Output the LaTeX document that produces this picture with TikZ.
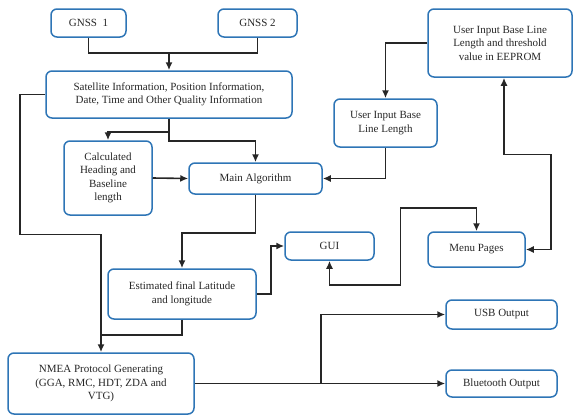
\documentclass[tikz,border=0pt]{standalone}
\usepackage{fontspec}
\setmainfont{Liberation Serif}
\usetikzlibrary{arrows.meta}
\definecolor{boxblue}{RGB}{46,117,182}
\tikzset{
  box/.style={draw=boxblue, line width=1.5pt, rounded corners=6pt, align=center,
    inner sep=2pt, font=\fontsize{11}{13.5}\selectfont, text=black!85},
  conn/.style={line width=1.6pt, black!85},
  arr/.style={conn, -{Latex[length=8pt,width=7pt]}},
  arrb/.style={conn, {Latex[length=8pt,width=7pt]}-{Latex[length=8pt,width=7pt]}}
}
\begin{document}
\begin{tikzpicture}[x=1pt,y=-1pt]
\useasboundingbox (0,0) rectangle (574,416);
\node[box, minimum width=75pt, minimum height=28pt] (g1) at (88.5,23) {GNSS\ \ 1};
\node[box, minimum width=79pt, minimum height=28pt] (g2) at (257.5,23) {GNSS 2};
\node[box, minimum width=246pt, minimum height=47pt] (sat) at (169,94.5) {Satellite Information, Position Information,\\Date, Time and Other Quality Information};
\node[box, minimum width=88pt, minimum height=74pt] (calc) at (108,178) {Calculated\\Heading and\\Baseline\\length};
\node[box, minimum width=133pt, minimum height=31pt] (main) at (255.5,178.5) {Main Algorithm};
\node[box, minimum width=103pt, minimum height=48pt] (uib) at (385.5,123) {User Input Base\\Line Length};
\node[box, minimum width=144pt, minimum height=68pt] (eep) at (500,43) {User Input Base Line\\Length and threshold\\value in EEPROM};
\node[box, minimum width=148pt, minimum height=50pt] (est) at (182,294) {Estimated final Latitude\\and longitude};
\node[box, minimum width=89pt, minimum height=28pt] (gui) at (329.5,246) {GUI};
\node[box, minimum width=97pt, minimum height=35pt] (menu) at (476.5,249.5) {Menu Pages};
\node[box, minimum width=186pt, minimum height=61pt] (nmea) at (101,383.5) {NMEA Protocol Generating\\(GGA, RMC, HDT, ZDA and\\VTG)};
\node[box, minimum width=111pt, minimum height=29pt] (usb) at (501.5,314.5) {USB Output};
\node[box, minimum width=111pt, minimum height=27pt] (bt) at (501.5,383.5) {Bluetooth Output};

\coordinate (j1) at (169,53);
\draw[conn] (g1.south) |- (j1);
\draw[conn] (g2.south) |- (j1);
\draw[arr] (j1) -- (sat.north);
\draw[arr] (sat.south) -- ([yshift=-13]sat.south) -| (calc.north);
\draw[arr] (sat.south) -- ([yshift=-22]sat.south) -| (main.north);
\draw[arr] (calc.east) -- (main.west);
\draw[arr] (eep.west) -| (uib.north);
\draw[arr] (uib.south) |- (main.east);
\draw[arr] (main.south) -- ([yshift=-38]main.south) -| (est.north);
\draw[arr] (est.east) -- ++(14,0) |- (gui.west);
\draw[arr] (sat.west) -- ++(-25,0) -- ++(0,140) -| (nmea.north);
\draw[conn] (est.south) |- ([yshift=17]nmea.north);
\draw[arr] (nmea.east) -- (bt.west);
\draw[arr] (nmea.east) -- ++(126,0) |- (usb.west);
\draw[arrb] (gui.south) -- ++(0,24) -- ++(71,0) -- ++(0,-77) -| (menu.north);
\draw[arrb] (menu.east) -- ++(25,0) -- ++(0,-95) -| ([xshift=4]eep.south);
\end{tikzpicture}
\end{document}
